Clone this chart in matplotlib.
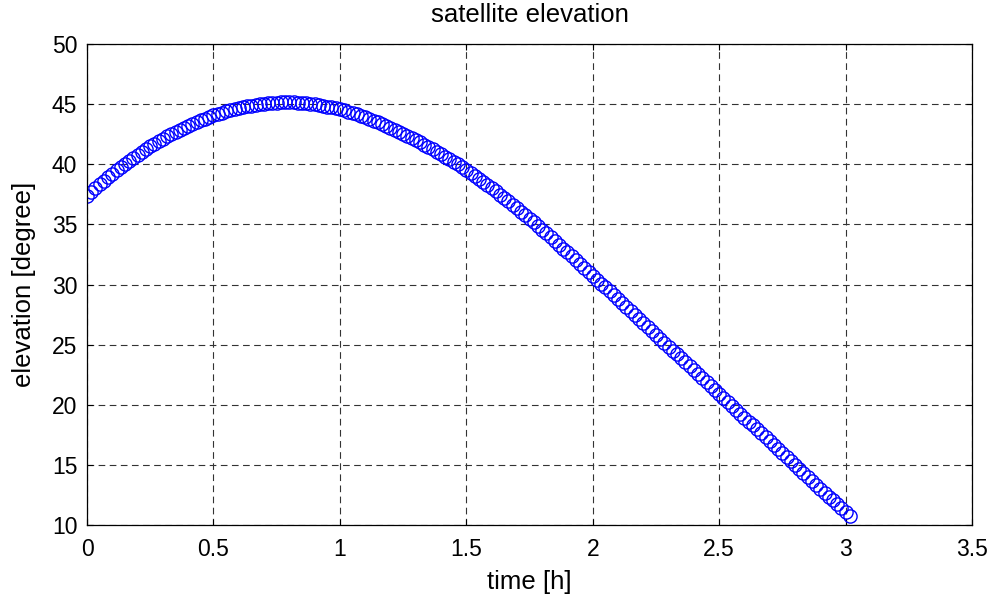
import matplotlib.pyplot as plt
import numpy as np

plt.rcParams['font.family'] = ['Liberation Sans', 'DejaVu Sans']

# elevation, one sample per minute (0 .. 181 min)
elev = [
    37.40, 37.72, 38.03, 38.34, 38.64, 38.93, 39.22, 39.50, 39.77, 40.03,
    40.29, 40.54, 40.79, 41.03, 41.26, 41.49, 41.71, 41.92, 42.12, 42.32,
    42.51, 42.70, 42.88, 43.05, 43.21, 43.37, 43.52, 43.67, 43.80, 43.94,
    44.06, 44.18, 44.29, 44.39, 44.49, 44.58, 44.67, 44.74, 44.81, 44.88,
    44.93, 44.99, 45.03, 45.07, 45.10, 45.12, 45.14, 45.15, 45.15, 45.14,
    45.12, 45.10, 45.07, 45.03, 44.98, 44.93, 44.87, 44.80, 44.73, 44.65,
    44.56, 44.47, 44.37, 44.26, 44.15, 44.03, 43.90, 43.77, 43.63, 43.48,
    43.34, 43.18, 43.03, 42.87, 42.70, 42.54, 42.36, 42.19, 42.01, 41.82,
    41.64, 41.44, 41.25, 41.05, 40.84, 40.63, 40.42, 40.20, 39.98, 39.75,
    39.52, 39.28, 39.04, 38.79, 38.54, 38.28, 38.02, 37.75, 37.48, 37.20,
    36.92, 36.64, 36.35, 36.06, 35.77, 35.47, 35.17, 34.86, 34.56, 34.25,
    33.94, 33.62, 33.31, 32.99, 32.67, 32.35, 32.03, 31.71, 31.39, 31.07,
    30.74, 30.41, 30.08, 29.76, 29.43, 29.10, 28.77, 28.44, 28.12, 27.79,
    27.46, 27.13, 26.80, 26.48, 26.15, 25.82, 25.49, 25.16, 24.84, 24.51,
    24.18, 23.85, 23.52, 23.20, 22.87, 22.54, 22.21, 21.88, 21.56, 21.23,
    20.90, 20.57, 20.24, 19.92, 19.59, 19.26, 18.93, 18.60, 18.28, 17.95,
    17.62, 17.29, 16.96, 16.64, 16.31, 15.98, 15.65, 15.32, 15.00, 14.67,
    14.34, 14.01, 13.68, 13.36, 13.03, 12.70, 12.37, 12.04, 11.72, 11.39,
    11.06, 10.73,
]
time_h = np.arange(len(elev)) / 60.0

xticks = [0, 0.5, 1, 1.5, 2, 2.5, 3, 3.5]
xticklabels = ['0', '0.5', '1', '1.5', '2', '2.5', '3', '3.5']
yticks = [10, 15, 20, 25, 30, 35, 40, 45, 50]

fig = plt.figure(figsize=(9.88, 5.99), dpi=100)
ax = fig.add_axes([87 / 988, 74 / 599, 885 / 988, 481 / 599])

ax.plot(time_h, elev, 'o', markerfacecolor='none', markeredgecolor='blue',
        markersize=9.5, markeredgewidth=1.0)

ax.set_xlim(0, 3.5)
ax.set_ylim(10, 50)
ax.set_xticks(xticks)
ax.set_xticklabels(xticklabels)
ax.set_yticks(yticks)

ax.grid(True, color='0.2', linestyle=(0, (6, 4)), linewidth=0.8)
ax.tick_params(direction='in', top=True, right=True, length=4, width=0.8,
               labelsize=16.5)
ax.tick_params(axis='x', pad=9)
ax.tick_params(axis='y', pad=7)
for s in ax.spines.values():
    s.set_linewidth(0.9)

ax.set_title('satellite elevation', fontsize=18.5, pad=16)
ax.set_xlabel('time [h]', fontsize=18.5, labelpad=7)
ax.set_ylabel('elevation [degree]', fontsize=18.5, labelpad=11)

fig.savefig('out.png', dpi=100)
